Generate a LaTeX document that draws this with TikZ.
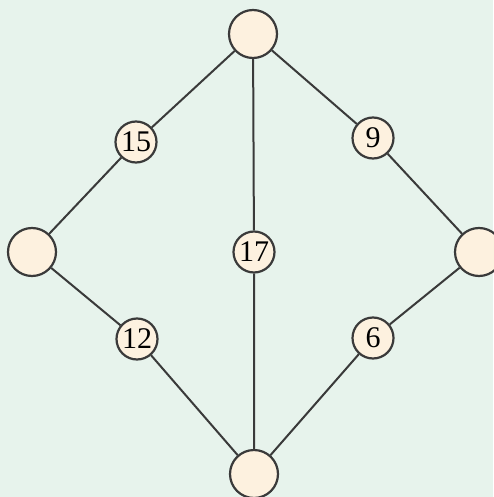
\documentclass[tikz,border=0pt]{standalone}
\usepackage{fontspec}
\setmainfont{Liberation Serif}
\definecolor{bgc}{HTML}{E7F3EC}
\definecolor{fillc}{HTML}{FDF1DF}
\definecolor{linec}{HTML}{3A3A3A}
\begin{document}
\begin{tikzpicture}[x=1pt,y=-1pt,
  big/.style={circle,draw=linec,fill=fillc,line width=2.2pt,minimum size=48pt,inner sep=0pt},
  small/.style={circle,draw=linec,fill=fillc,line width=2.2pt,minimum size=41pt,inner sep=0pt,font=\fontsize{30}{30}\selectfont},
  edge/.style={draw=linec,line width=2pt}]
\fill[bgc] (0,0) rectangle (493,497);
\useasboundingbox (0,0) rectangle (493,497);
\node[big] (t) at (253,34) {};
\node[big] (l) at (32,252) {};
\node[big] (r) at (479,252) {};
\node[big] (b) at (254,474) {};
\node[small] (n15) at (136,142) {15};
\node[small] (n9) at (373,138) {9};
\node[small] (n17) at (254,252) {17};
\node[small] (n12) at (137,339) {12};
\node[small] (n6) at (373,338) {6};
\draw[edge] (t) -- (n15) -- (l);
\draw[edge] (t) -- (n9) -- (r);
\draw[edge] (t) -- (n17) -- (b);
\draw[edge] (l) -- (n12) -- (b);
\draw[edge] (r) -- (n6) -- (b);
\end{tikzpicture}
\end{document}
